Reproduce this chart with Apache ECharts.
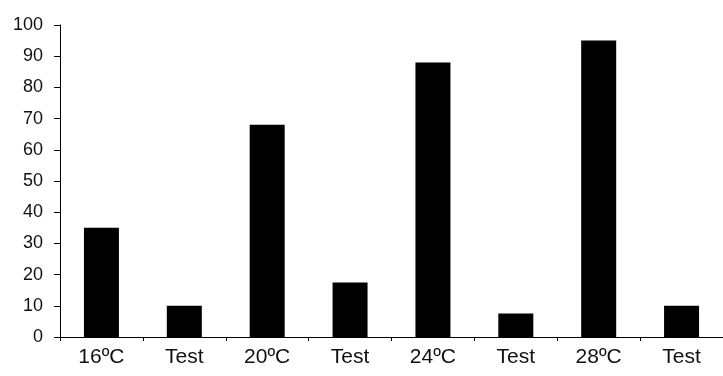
<!DOCTYPE html>
<html>
<head>
<meta charset="utf-8">
<script src="https://cdn.jsdelivr.net/npm/echarts@6/dist/echarts.min.js"></script>
<style>
  html, body { margin: 0; padding: 0; background: #fff; }
  #chart { width: 723px; height: 376px; }
</style>
</head>
<body>
<div id="chart"></div>
<script>
// Germination by temperature, each paired with its test bar
const categories = ['16ºC', 'Test', '20ºC', 'Test', '24ºC', 'Test', '28ºC', 'Test'];
const values = [35, 10, 68, 17.5, 88, 7.5, 95, 10];
const yTicks = { min: 0, max: 100, interval: 10 };

const chart = echarts.init(document.getElementById('chart'), null, { renderer: 'canvas' });

chart.setOption({
  animation: false,
  backgroundColor: '#ffffff',
  grid: { left: 60, top: 25, width: 668, bottom: 39, containLabel: false },
  xAxis: {
    type: 'category',
    data: categories,
    boundaryGap: true,
    axisLine: { lineStyle: { color: '#000', width: 1 } },
    axisTick: { show: true, length: 4, lineStyle: { color: '#000' } },
    axisLabel: {
      color: '#111',
      fontFamily: '"Liberation Sans", Arial, sans-serif',
      fontSize: 21,
      margin: 10
    },
    splitLine: { show: false }
  },
  yAxis: {
    type: 'value',
    min: yTicks.min,
    max: yTicks.max,
    interval: yTicks.interval,
    axisLine: { show: true, lineStyle: { color: '#000', width: 1 } },
    axisTick: { show: true, length: 6, lineStyle: { color: '#000' } },
    axisLabel: {
      color: '#111',
      fontFamily: '"Liberation Sans", Arial, sans-serif',
      fontSize: 18,
      margin: 17
    },
    splitLine: { show: false }
  },
  series: [{
    type: 'bar',
    data: values,
    barWidth: 35,
    itemStyle: { color: '#000' }
  }]
});
</script>
</body>
</html>
